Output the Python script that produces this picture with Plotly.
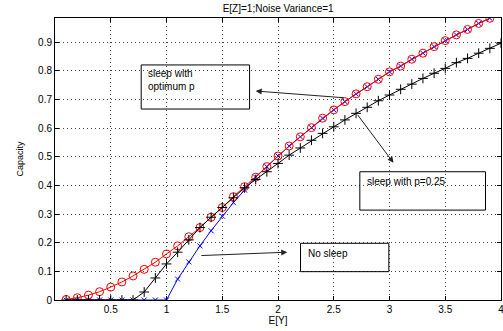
import plotly.graph_objects as go

x_vals = [round(0.1 * i, 1) for i in range(1, 41)]  # 0.1 .. 4.0

no_sleep = [0, 0, 0, 0, 0, 0, 0, 0, 0, 0,
            0.073, 0.133, 0.189, 0.242, 0.293, 0.340, 0.384, 0.429, 0.466, 0.503,
            0.538, 0.570, 0.602, 0.635, 0.664, 0.693, 0.720, 0.745, 0.771, 0.797,
            0.817, 0.841, 0.862, 0.885, 0.906, 0.926, 0.945, 0.966, 0.984]

sleep_p025 = [0, 0, 0, 0, 0, 0, 0, 0.028, 0.077, 0.126,
              0.167, 0.210, 0.253, 0.289, 0.323, 0.357, 0.392, 0.421, 0.448, 0.477,
              0.506, 0.531, 0.558, 0.582, 0.605, 0.629, 0.652, 0.673, 0.696, 0.716,
              0.736, 0.754, 0.774, 0.792, 0.809, 0.829, 0.844, 0.862, 0.879, 0.897]

sleep_opt = [0.002, 0.008, 0.017, 0.029, 0.045, 0.063, 0.084, 0.107, 0.132, 0.161,
             0.189, 0.221, 0.253, 0.289, 0.323, 0.361, 0.396, 0.429, 0.466, 0.503,
             0.538, 0.570, 0.602, 0.635, 0.664, 0.693, 0.720, 0.745, 0.771, 0.797,
             0.817, 0.841, 0.862, 0.885, 0.906, 0.926, 0.945, 0.966, 0.984]

x_ticks = [0.5, 1, 1.5, 2, 2.5, 3, 3.5, 4]
x_tick_text = ["0.5", "1", "1.5", "2", "2.5", "3", "3.5", "4"]
y_ticks = [0, 0.1, 0.2, 0.3, 0.4, 0.5, 0.6, 0.7, 0.8, 0.9]
y_tick_text = ["0", "0.1", "0.2", "0.3", "0.4", "0.5", "0.6", "0.7", "0.8", "0.9"]

FONT = "Liberation Sans, Arial, sans-serif"

fig = go.Figure()
fig.add_trace(go.Scatter(
    x=x_vals[:len(no_sleep)], y=no_sleep, mode="lines+markers",
    line=dict(color="#0000ff", width=1),
    marker=dict(symbol="x-thin-open", size=5, color="#0000ff", line=dict(width=1, color="#0000ff")),
    showlegend=False))
fig.add_trace(go.Scatter(
    x=x_vals[:len(sleep_opt)], y=sleep_opt, mode="lines+markers",
    line=dict(color="#ff0000", width=1),
    marker=dict(symbol="circle-open", size=8, color="#ff0000", line=dict(width=1, color="#ff0000")),
    showlegend=False))
fig.add_trace(go.Scatter(
    x=x_vals[:len(sleep_p025)], y=sleep_p025, mode="lines+markers",
    line=dict(color="#000000", width=1),
    marker=dict(symbol="cross-thin-open", size=7, color="#000000", line=dict(width=1, color="#000000")),
    showlegend=False))

# text boxes
boxes = [(0.773, 0.667, 1.745, 0.821), (2.734, 0.314, 3.861, 0.448), (2.202, 0.099, 2.994, 0.198)]
for x0, y0, x1, y1 in boxes:
    fig.add_shape(type="rect", xref="x", yref="y", x0=x0, y0=y0, x1=x1, y1=y1,
                  line=dict(color="#000000", width=1), fillcolor="rgba(0,0,0,0)")

texts = [("sleep with<br>optimum p", 0.816, 0.818),
         ("sleep with p=0.25", 2.78, 0.441),
         ("No sleep", 2.25, 0.189)]
for t, tx, ty in texts:
    fig.add_annotation(text=t, x=tx, y=ty, xref="x", yref="y", showarrow=False,
                       xanchor="left", yanchor="top", align="left",
                       font=dict(family=FONT, size=10, color="#000000"))

arrows = [(1.80, 0.730, 2.605, 0.706),
          (3.036, 0.479, 2.704, 0.652),
          (2.083, 0.167, 1.299, 0.155)]
for hx, hy, tx, ty in arrows:
    fig.add_annotation(x=hx, y=hy, ax=tx, ay=ty, xref="x", yref="y", axref="x", ayref="y",
                       text="", showarrow=True, arrowhead=2, arrowsize=1.2, arrowwidth=1,
                       arrowcolor="#222222")

fig.update_layout(
    width=503, height=331,
    margin=dict(l=55, r=2, t=18, b=31),
    paper_bgcolor="white", plot_bgcolor="white",
    font=dict(family=FONT, size=10, color="#000000"),
    title=dict(text="E[Z]=1;Noise Variance=1", x=0.553, xanchor="center", y=0.985, yanchor="top",
               font=dict(family=FONT, size=10, color="#000000")),
)
fig.update_xaxes(range=[0, 4], tickvals=x_ticks, ticktext=x_tick_text, automargin=False,
                 ticklabeloverflow="allow",
                 showgrid=True, gridcolor="#444444", griddash="1px,3px", gridwidth=1,
                 showline=True, linecolor="#000000", linewidth=1, mirror="ticks",
                 ticks="inside", ticklen=4, tickcolor="#000000", zeroline=False,
                 title=dict(text="E[Y]", standoff=2, font=dict(size=10)),
                 tickfont=dict(size=10))
fig.update_yaxes(range=[0, 0.985], tickvals=y_ticks, ticktext=y_tick_text, automargin=False,
                 showgrid=True, gridcolor="#444444", griddash="1px,3px", gridwidth=1,
                 showline=True, linecolor="#000000", linewidth=1, mirror="ticks",
                 ticks="inside", ticklen=4, tickcolor="#000000", zeroline=False,
                 title=dict(text="Capacity", standoff=12, font=dict(size=9)),
                 tickfont=dict(size=10))

fig.write_html("out.html", config={"displayModeBar": False},
               post_script="document.body.style.margin='0px';document.body.style.overflow='hidden';")
